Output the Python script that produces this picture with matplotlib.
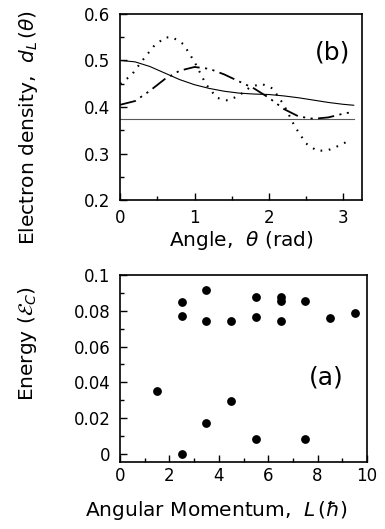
import numpy as np
import matplotlib
matplotlib.use("Agg")
import matplotlib.pyplot as plt

plt.rcParams['font.family'] = ['DejaVu Sans']

# panel (b): electron density vs angle
theta = [0.0, 0.2, 0.4, 0.6, 0.8, 1.0, 1.2, 1.4, 1.6, 1.8, 2.0, 2.2, 2.4, 2.6, 2.8, 3.0, 3.14]
dens_solid = [0.500, 0.497, 0.487, 0.473, 0.459, 0.448, 0.440, 0.434, 0.430, 0.428, 0.427, 0.424, 0.420, 0.415, 0.410, 0.406, 0.404]
dens_dashdot = [0.405, 0.413, 0.435, 0.460, 0.478, 0.486, 0.482, 0.470, 0.455, 0.440, 0.420, 0.396, 0.380, 0.375, 0.378, 0.386, 0.390]
theta_dot = [0.0, 0.15, 0.3, 0.45, 0.6, 0.7, 0.85, 1.0, 1.15, 1.3, 1.45, 1.6, 1.75, 1.9, 2.05, 2.2, 2.35, 2.5, 2.65, 2.8, 2.95, 3.1]
dens_dot = [0.450, 0.468, 0.500, 0.530, 0.549, 0.550, 0.535, 0.497, 0.450, 0.420, 0.414, 0.425, 0.443, 0.450, 0.440, 0.405, 0.358, 0.322, 0.306, 0.308, 0.318, 0.330]
dens_flat = 0.375

# panel (a): energy vs angular momentum
L = [1.5, 2.5, 2.5, 2.5, 3.5, 3.5, 3.5, 4.5, 4.5, 5.5, 5.5, 5.5, 6.5, 6.5, 6.5, 7.5, 7.5, 8.5, 9.5]
E = [0.035, 0.0848, 0.0773, 0.0, 0.0918, 0.0745, 0.0170, 0.0745, 0.0293, 0.0878, 0.0763, 0.0085, 0.0876, 0.0853, 0.0743, 0.0857, 0.0085, 0.0758, 0.0788]

fig = plt.figure(figsize=(3.85, 5.29), dpi=100)
ax1 = fig.add_axes([0.312, 0.621, 0.628, 0.353])
ax2 = fig.add_axes([0.312, 0.127, 0.641, 0.353])

ax1.plot([0, 3.14], [dens_flat, dens_flat], color='0.35', lw=0.8)
ax1.plot(theta, dens_solid, color='k', lw=0.8)
ax1.plot(theta, dens_dashdot, color='k', lw=1.3, ls=(0, (9, 3, 1.2, 3, 1.2, 3)))
ax1.plot(theta_dot, dens_dot, color='k', lw=1.5, ls=(0, (0.8, 3.2)))
ax1.set_xlim(0, 3.25)
ax1.set_ylim(0.2, 0.6)
ax1.set_xticks([0, 1, 2, 3])
ax1.set_xticks(np.arange(0, 3.26, 0.5), minor=True)
ax1.set_yticks([0.2, 0.3, 0.4, 0.5, 0.6])
ax1.set_yticks(np.arange(0.2, 0.61, 0.05), minor=True)
ax1.set_yticklabels(['0.2', '0.3', '0.4', '0.5', '0.6'])
ax1.set_xlabel(r'Angle,  $\theta$ (rad)', fontsize=14.5)
ax1.set_ylabel(r'Electron density,  $d_L\,(\theta)$', fontsize=14.5)
ax1.xaxis.set_label_coords(0.5, -0.15)
ax1.yaxis.set_label_coords(-0.33, 0.39)
ax1.text(2.86, 0.516, '(b)', fontsize=18, ha='center', va='center')
ax1.tick_params(axis='x', which='major', pad=6)

ax2.scatter(L, E, s=28, color='k', zorder=3)
ax2.set_xlim(0, 10)
ax2.set_ylim(-0.0045, 0.1)
ax2.set_xticks([0, 2, 4, 6, 8, 10])
ax2.set_xticks(range(0, 11), minor=True)
ax2.set_yticks([0, 0.02, 0.04, 0.06, 0.08, 0.1])
ax2.set_yticklabels(['0', '0.02', '0.04', '0.06', '0.08', '0.1'])
ax2.set_yticks(np.arange(0, 0.101, 0.01), minor=True)
ax2.set_xlabel(r'Angular Momentum,  $L\,(\hbar)$', fontsize=14.5)
ax2.set_ylabel(r'Energy ($\mathcal{E}_C$)', fontsize=14.5)
ax2.xaxis.set_label_coords(0.39, -0.2)
ax2.yaxis.set_label_coords(-0.33, 0.636)
ax2.text(8.34, 0.0427, '(a)', fontsize=18, ha='center', va='center')
ax2.tick_params(axis='x', which='major', pad=4)

for ax in (ax1, ax2):
    ax.tick_params(which='both', direction='in', top=False, right=False, labelsize=12)
    ax.tick_params(axis='y', which='major', pad=7)
    ax.tick_params(which='major', length=5, width=1)
    ax.tick_params(which='minor', length=3, width=1)
    for s in ax.spines.values():
        s.set_linewidth(1.2)

fig.savefig('out.png', dpi=100)
